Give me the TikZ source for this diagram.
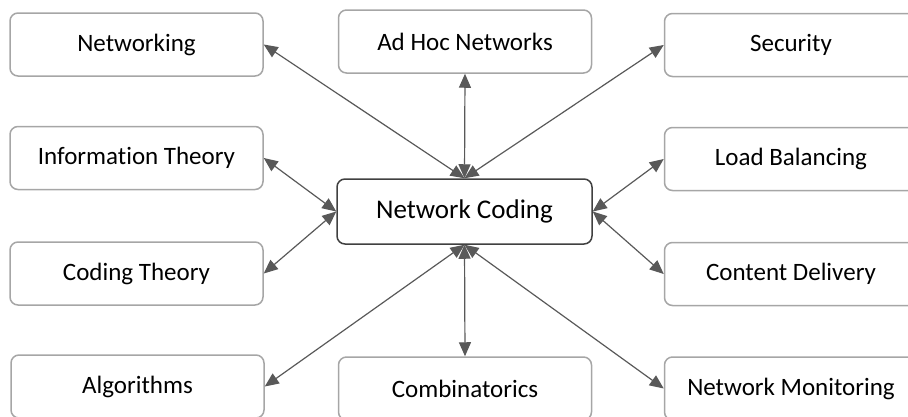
\documentclass[tikz,border=0pt]{standalone}
\usepackage{fontspec}
\setmainfont{Carlito}[Ligatures=NoCommon]
\usetikzlibrary{arrows.meta}
\definecolor{boxgray}{HTML}{A6A6A6}
\definecolor{hubgray}{HTML}{404040}
\definecolor{linkgray}{HTML}{595959}
\tikzstyle{topic}=[draw=boxgray,fill=white,rectangle,rounded corners=8pt,line width=1.5pt,minimum width=253pt,minimum height=63pt,inner sep=0pt,font=\fontsize{25}{30}\selectfont]
\tikzstyle{hub}=[topic,draw=hubgray,minimum width=255pt,minimum height=65pt,font=\fontsize{27}{32}\selectfont]
\tikzstyle{link}=[draw=linkgray,line width=1.2pt]

\begin{document}
\begin{tikzpicture}[x=1pt,y=-1pt,>={Triangle[length=14pt,width=12pt]}]
    \useasboundingbox (0,0) rectangle (908,416);
    \clip (0,0) rectangle (908,416);
    \node[hub] (coding) at (464.5,211.5) {Network Coding};
    % left column
    \node[topic] (networking) at (136.5,44.5) {Networking};
    \node[topic] (info) at (136.5,158) {Information Theory};
    \node[topic] (codingth) at (136.5,273.5) {Coding Theory};
    \node[topic] (algo) at (137.5,386.5) {Algorithms};
    % middle column
    \node[topic] (adhoc) at (465,41.5) {Ad Hoc Networks};
    \node[topic] (combi) at (465,388.5) {Combinatorics};
    % right column
    \node[topic] (security) at (791,45) {Security};
    \node[topic] (load) at (791,159) {Load Balancing};
    \node[topic] (content) at (791,274) {Content Delivery};
    \node[topic] (monitor) at (791,388.5) {Network Monitoring};
    \draw[link,<->] (coding.north) -- (networking.east);
    \draw[link,<->] (coding.north) -- (adhoc.south);
    \draw[link,<->] (coding.north) -- (security.west);
    \draw[link,<->] (coding.west) -- (info.east);
    \draw[link,<->] (coding.west) -- (codingth.east);
    \draw[link,<->] (coding.east) -- (load.west);
    \draw[link,<->] (coding.east) -- (content.west);
    \draw[link,<->] (coding.south) -- (algo.east);
    \draw[link,<->] (coding.south) -- (combi.north);
    \draw[link,<->] (coding.south) -- (monitor.west);
\end{tikzpicture}
\end{document}
